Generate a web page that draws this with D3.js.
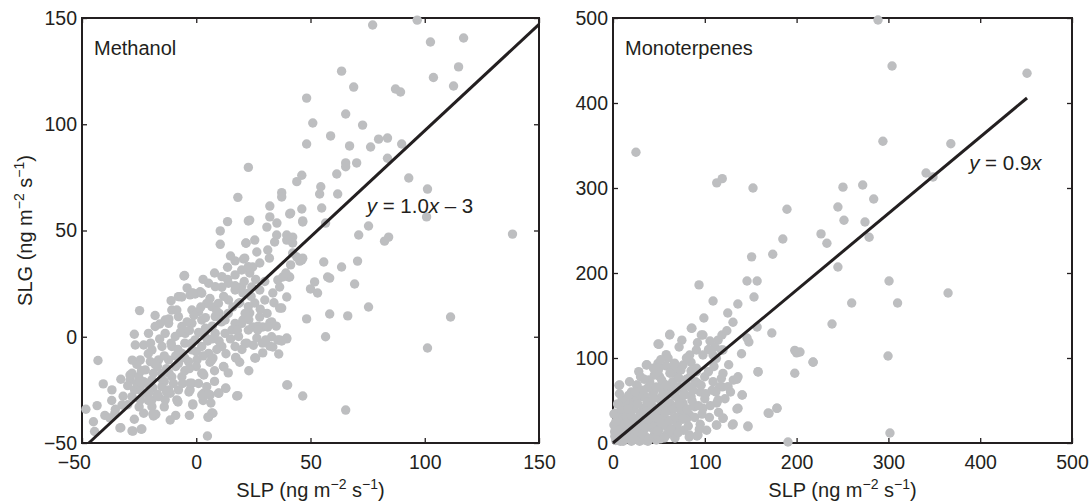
<!DOCTYPE html>
<html>
<head>
<meta charset="utf-8">
<script src="https://cdn.jsdelivr.net/npm/d3@7"></script>
<style>
  body { margin: 0; background: #fff; }
  svg { display: block; font-family: "Liberation Sans", Arial, Helvetica, sans-serif; }
</style>
</head>
<body>
<div id="chart"></div>
<script>
// SLP vs SLG values, [SLP, SLG] in ng m-2 s-1
const methanolPoints = [
  // upper / outlying points
  [96.7, 149], [77.2, 146.7], [102.5, 138.7], [117, 140.6], [114.8, 127], [103.8, 122], [112.6, 118],
  [63.6, 125], [68.9, 117.5], [87.2, 116.6], [89.4, 115.2], [48.3, 112.3], [65.4, 104.8], [51, 100.6],
  [72.8, 99.6], [58.8, 94.5], [48.3, 90.7], [67.1, 89.8], [76.3, 89.3], [79.8, 93], [83.7, 93.5],
  [89.9, 90.7], [83.7, 84], [65.4, 81.8], [65.4, 80], [70.2, 81.8], [61.5, 76.6], [46.2, 76], [44, 73],
  [54.5, 70.6], [37.4, 67.8], [37.4, 65.8], [54, 67.2], [61.9, 67.2], [93, 74.7], [101.2, 69.5],
  [100.8, 56.4], [138.4, 48.3], [75.4, 52.1], [71.1, 47.9], [82.4, 45], [84.2, 46.9], [46.2, 60.1],
  [54.9, 60.6], [32.2, 61.5], [41.3, 58.2], [46.6, 54.5], [56.6, 53.5], [32.2, 56.4], [30.9, 51.6],
  [35.3, 53.5], [40.9, 57.8], [46.6, 54], [23.4, 54.9], [25.6, 45.5], [21.7, 44.1], [35.2, 47.9],
  [39.6, 47.9], [42.2, 46.9], [58.4, 27.6], [22.8, 79.7], [18.2, 65.6], [22.8, 54.5], [13.7, 54.2],
  [10.5, 49.8], [10.5, 43.5], [21.8, 44], [20.7, 36.6], [17, 35.7], [13.7, 32.7], [-5.1, 28.8],
  // band above the line
  [24.7, 32.8], [23.4, 30], [27.8, 34.7], [24.3, 23.4], [20.4, 20.6], [27.8, 22], [30, 17.3],
  [25.6, 15.9], [23.4, 11.2], [27.8, 9.3], [20.4, 7.9], [24.7, 4.6], [29.1, 4.6], [32.2, 6.5],
  [33, 0], [36.5, -1.5], [39.6, -0.6], [26.5, -0.6], [22.1, -3], [33.5, -4.8], [37.4, 13.5],
  [33.5, 20.6], [35.7, 26.7], [36.5, 23.4], [40.9, 28.1], [44, 37.5], [46.2, 36.1], [39.6, 45.5],
  [42.2, 44.1], [34.3, 44.6], [31.3, 40.8], [26.5, 39.9], [21.2, 37],
  [17, 29.1], [13.7, 27], [11.2, 23.3], [-0.5, 20.1], [-2.7, 19.7], [-7.3, 18.9], [-24.8, 12.3],
  [-27.1, 1.2], [22.8, 33], [19.9, 23.6], [22.8, 20.5], [17, 22], [22.8, 14.2], [19.9, 6.3],
  [15.6, 3.2], [11.2, 28.3], [8.3, 23.6], [5.4, 25.2], [2.4, 20.5], [14.1, 25.2], [19.9, 31.4],
  // dense core
  [-7.8, 18.9], [-1.9, 20.5], [1.7, 21.2], [4.6, 15.7], [6.8, 14.2], [9.7, 15.7], [14.1, 17.3],
  [18.5, 15.7], [21.4, 11], [-1.9, 12.6], [-10.7, 12.6], [-13.6, 7.9], [-7.8, 9.5], [1, 11.8],
  [-20.9, 1.6], [-18, 4.8], [-12.1, 6.3], [-6.3, 4.8], [-1.9, 6.3], [2.4, 7.9], [8.3, 9.5],
  [12.6, 7.9], [17, 6.3], [22.8, 3.2], [18.5, 0.1], [12.6, 1.6], [8.3, 1.6], [3.9, 0.1],
  [-0.5, -1.5], [-4.8, 1.6], [-9.2, 0.1], [-13.6, 1.6], [-26.7, -3.9], [-23, -3.9], [-19.4, -6.2],
  [-15, -4.6], [-10.7, -4.6], [-6.3, -7.8], [-1.9, -6.2], [2.4, -4.6], [5.4, -7.8], [11.2, -4.6],
  [17, -4.6], [21.4, -3.1], [-24.5, -10.9], [-20.1, -11.7], [-16.5, -10.9], [-12.1, -10.9],
  [-7.8, -12.5], [-3.4, -11.7], [0.3, -10.9], [-28.1, -17.2], [-25.2, -18.8], [-22.3, -15.6],
  [-18.7, -17.2], [-15, -17.2], [-10.7, -18.8], [-6.3, -18.8], [-1.9, -21.9], [2.4, -17.2],
  [-23, -21.1], [-19.4, -20.3], [-15, -23.5], [-12.1, -25], [-7.8, -25], [-2.7, -25],
  [-28.9, -20.3], [-24.5, -25], [-20.9, -26.6], [-16.5, -28.2], [-11.4, -26.6], [-28.1, -28.2],
  [-24.5, -29.7], [-22.3, -26.6], [-19.4, -29.7], [-13.6, -29.7], [-8.5, -29.7], [-19.4, -32.9],
  [-17, -14], [-13, -15], [-9, -9], [-5, -3], [-3, 3], [4, 4], [7, -1], [10, 11], [-16, -1],
  [-21, -8], [-26, -13], [-30, -23], [-14, -21], [-5, -16], [0, -14], [6, -12], [9, -6],
  [-32, -28], [-30, -32], [-27, -25], [-25, -33], [-22, -22], [-21, -30], [-19, -24], [-18, -13],
  [-17, -27], [-15, -20], [-14, -9], [-13, -26], [-12, -17], [-11, -3], [-10, -22], [-9, -14],
  [-8, -6], [-7, 2], [-6, -22], [-5, -10], [-4, 7], [-3, -15], [-2, -3], [-1, 10], [0, -7],
  [1, 2], [2, 14], [3, -9], [4, 9], [5, -2], [6, 18], [7, 5], [8, -16], [9, 12], [10, -2],
  [11, 7], [12, 19], [13, -8], [14, 11], [15, -1], [16, 14], [17, 24], [18, 3], [19, 16],
  [20, -6], [21, 26], [23, 8], [24, 19], [25, -4], [26, 27], [28, 13], [29, -3], [30, 26],
  [31, 11], [32, 37], [34, 16], [35, 5], [-16, 6], [-20, -3], [-24, -16], [-28, -11], [-26, -22],
  [-23, -36], [-14, -33], [-9, -37], [-3, -37], [1, -22], [3, -30], [8, -21], [14, -17],
  [19, -12], [23, -16], [27, 5], [-11, 17], [-4, 23], [3, 27], [8, 30], [15, 38], [-18, 10],
  [-33, -20], [-37, -30], [-40, -37], [-45, -40],
  // lower side and tails
  [-43, -11.2], [-40.7, -22.2], [-36.9, -25], [-48.3, -34.1], [-43.4, -32.4], [-35.4, -34.1],
  [-32.5, -32.1], [-44.5, -44.6], [-33, -42.8], [-28.1, -44.3], [-24.1, -43.5], [-27.1, -38.8],
  [-18.7, -37.3], [-17.7, -36.5], [-11.4, -39.2], [4.9, -46.7], [5.4, -37.9], [7.3, -36],
  [4.6, -23.5], [6.1, -27.4], [12.9, -24.3], [9.7, -26.6], [18.2, -27.7], [-1.5, -32.1],
  [-8.2, -30.1], [3.2, -26.6], [17.3, -9.7], [11.9, -14], [6.8, -10.9], [2.9, -17.2],
  [-12, 8.4], [-8.5, 12.6], [-5.4, 28.6], [-1.5, 20.6], [-6.3, 18.7], [-29, -18], [-24.6, -21.3],
  [-35.6, -35.9], [-37.8, -38.2], [-33.4, -42.9], [-27.7, -44.4], [-23.8, -43.4], [-19, -36.4],
  [-8, -30.7], [-1.5, -31.6], [6.8, -35.9], [5.1, -37.8], [6.4, -31.2], [2.4, -27.4], [5.1, -26.9],
  [9.9, -26.5], [12.9, -24.1], [17.7, -27.9], [39.6, -22.7], [-3.2, -26], [3.3, -18], [-2.8, -21.8],
  [7.3, -10], [12.1, -14.2], [17.3, -10], [25.6, -10], [29.1, -7.6], [36.1, -8.1], [35.7, -1.5],
  [39.6, -1], [36.5, 13.5], [39.6, 18.7], [40.5, 28.1], [37.8, 28.1],
  [70.6, 35.6], [63.6, 32.8], [55.8, 35.2], [57.5, 28.1], [69.3, 24.8], [51.8, 25.8], [50, 22.5],
  [53.1, 20.6], [75.4, 14], [58.4, 10.7], [66.3, 9.8], [48.3, 8.4], [56.6, 0], [111.3, 9.3],
  [101.2, -5.3], [40, -22.7], [46.6, -27.9], [65.4, -34.5], [37.4, -2], [26, -10], [32.2, -4.4],
  [33, 7], [31.3, 4.6], [26.9, 3.2], [30.4, -1.5], [46.6, 37], [42.2, 39.4], [39.2, 30],
  [41.3, 33.8], [45.3, 35.6]
];

const monoterpenePoints = [
  // outlying points
  [25, 342], [113, 306], [119, 311], [152.5, 300], [189.5, 275], [185, 240], [174, 222], [151, 219],
  [226.6, 246], [288.7, 497.6], [304, 443.5], [451, 435], [294, 355], [368, 352], [341, 317.6],
  [348.6, 313], [250.5, 301], [272, 303.5], [284, 287], [245, 277.6], [251.6, 262], [274.5, 260],
  [279, 242], [233, 235], [245, 207], [300.7, 190.6], [365, 176.5], [260, 164.7], [310, 164.7],
  [238.6, 140], [203.7, 107], [217.9, 95.3], [299.6, 102.4], [301.7, 11.8],
  // middle spread
  [93.7, 186], [146, 190.6], [157, 190.6], [109, 167], [136, 163.5], [125, 153], [130.7, 142],
  [153.6, 171.8], [99, 147], [157, 136.5], [173, 129.4], [86, 135], [62, 128], [49, 116.5],
  [146, 123.5], [148, 118.8], [198, 109], [200, 106], [218, 95], [158, 83.5], [198, 82], [131, 74],
  [135, 75], [140.5, 56.5], [119, 66], [113, 47], [120, 29.4], [131, 22.4], [147, 20], [169, 35.3],
  [178.6, 41], [135, 40], [113, 21], [190.6, 1.2], [83, 7], [91.5, 8.2], [67.5, 5.9], [6.5, 68],
  [1, 34], [26, 68], [37, 92], [98, 127], [105.7, 120], [114.4, 121], [118.7, 127], [111, 113],
  [119.8, 109.4], [75, 121], [72, 113], [85.3, 135], [96.2, 127], [61.7, 127], [50.1, 116.1],
  [90.8, 109.4], [98, 103.5], [83.5, 103.5], [109, 103.5], [118, 109.4], [112.6, 99.6],
  [36.3, 91.8], [49, 93.7], [58.1, 90.6], [67.2, 89.8], [76.3, 91.8],
  // dense cluster
  [90.8, 83.9], [99.9, 78], [109, 72.2], [119.8, 81.9], [116.2, 66.3], [125.3, 66.3], [136.2, 78],
  [140.9, 56.5], [158, 83.9], [170, 34.9], [178.6, 40.8], [136.2, 40.8], [114.4, 50.6],
  [112.6, 21.2], [130, 21.2], [147, 19.2], [119.8, 29], [98, 40.8], [89, 42.7], [83.5, 32.9],
  [76.3, 46.6], [67.2, 42.7], [54.5, 34.9], [43.6, 42.7], [32.7, 40.8], [21.8, 42.7], [14.5, 34.9],
  [7.3, 31], [1, 21.2], [10.9, 17.3], [21.8, 25.1], [34.5, 25.1], [47.2, 23.1], [58.1, 27],
  [69, 19.2], [47.2, 11.4], [58.1, 9.4], [67.2, 7.5], [83.5, 9.4], [92.6, 9.4], [34.5, 3.5],
  [47.2, 3.5], [14.5, 5.5], [21.8, 3.5], [27.2, 7.5], [1.8, 13.3], [5.4, 3.5], [2, 35],
  [7.3, 68.2], [26.1, 68.2], [39.2, 74.1], [50.8, 78], [21.8, 50.6], [32.7, 54.5], [43.6, 58.4],
  [54.5, 60.4], [63.5, 64.3], [72.6, 66.3], [83.5, 66.3], [92.6, 70.2],
  [3, 3], [5, 8], [8, 2], [10, 12], [12, 5], [15, 15], [18, 8], [20, 2], [22, 18], [25, 12],
  [28, 4], [30, 22], [33, 15], [35, 8], [38, 2], [40, 28], [42, 18], [45, 10], [50, 15], [52, 5],
  [55, 30], [58, 20], [60, 12], [62, 38], [65, 28], [70, 22], [72, 50], [75, 35], [78, 58],
  [80, 28], [85, 55], [88, 45], [95, 60], [100, 52], [105, 30], [108, 62], [30, 35], [40, 48],
  [45, 62], [50, 52], [55, 45], [60, 58], [65, 72], [70, 80], [75, 65], [80, 75], [85, 85],
  [90, 72], [35, 55], [25, 50], [18, 45], [12, 28], [8, 22], [15, 32], [20, 60], [30, 78],
  [45, 80], [55, 70], [60, 100], [65, 85], [85, 95], [50, 88], [38, 65], [48, 38], [68, 55],
  [28, 30], [52, 66], [62, 47], [42, 32], [35, 40], [73, 40], [95, 22], [102, 15], [77, 15],
  [2, 8], [4, 18], [6, 26], [8, 12], [9, 40], [11, 2], [12, 22], [13, 48], [14, 9], [16, 25],
  [17, 56], [19, 12], [20, 32], [22, 6], [23, 40], [24, 22], [26, 14], [27, 46], [28, 58], [29, 2],
  [31, 28], [32, 10], [33, 62], [34, 36], [36, 18], [37, 48], [39, 5], [40, 72], [41, 38], [43, 22],
  [44, 52], [46, 30], [47, 66], [48, 14], [49, 84], [51, 42], [52, 24], [53, 74], [54, 56], [56, 6],
  [57, 36], [58, 68], [59, 48], [61, 26], [62, 82], [63, 16], [64, 58], [66, 40], [67, 94], [68, 30],
  [69, 62], [71, 12], [72, 76], [73, 44], [74, 86], [76, 28], [77, 56], [79, 68], [81, 40], [82, 20],
  [84, 78], [86, 50], [87, 62], [89, 30], [91, 88], [93, 44], [94, 16], [96, 68], [97, 34],
  [101, 58], [104, 84], [106, 44], [110, 90], [112, 60], [115, 36], [118, 76], [122, 52], [126, 92],
  [128, 60], [16, 40], [24, 60], [38, 28], [44, 88], [18, 72], [10, 52], [5, 46], [3, 25], [7, 58],
  [28, 84], [58, 104], [80, 100], [104, 110], [92, 118], [124, 132], [140, 105], [34, 75], [52, 98]
];

const methanolTicks = [-50, 0, 50, 100, 150];
const monoterpeneTicks = [0, 100, 200, 300, 400, 500];

// fitted lines: slope, intercept and the x span they are drawn over
const methanolFit = { slope: 1.0, intercept: -3, from: -47, to: 150 };
const monoterpeneFit = { slope: 0.9, intercept: 0, from: 0, to: 451 };

const ink = '#231f20';
const dotColor = '#bdbec0';

const width = 1090;
const height = 501;

const svg = d3.select('#chart').append('svg')
  .attr('width', width)
  .attr('height', height);

const panels = [
  {
    name: 'Methanol', points: methanolPoints, ticks: methanolTicks, fit: methanolFit,
    domain: [-50, 150], left: 82, right: 539, top: 18, bottom: 443,
    equation: ['y', ' = 1.0', 'x', ' \u2013 3'], eqAt: [74.6, 58.2], yTitle: true,
  },
  {
    name: 'Monoterpenes', points: monoterpenePoints, ticks: monoterpeneTicks, fit: monoterpeneFit,
    domain: [0, 500], left: 613, right: 1072, top: 18, bottom: 443,
    equation: ['y', ' = 0.9', 'x'], eqAt: [388, 321], yTitle: false,
  },
];

const fmt = d => (d < 0 ? '\u2212' + Math.abs(d) : String(d));

panels.forEach((p) => {
  const x = d3.scaleLinear().domain(p.domain).range([p.left, p.right]);
  const y = d3.scaleLinear().domain(p.domain).range([p.bottom, p.top]);
  const g = svg.append('g');

  // ticks on all four sides, pointing inwards
  const axes = [
    { axis: d3.axisBottom(x), tf: `translate(0,${p.bottom})`, labels: true },
    { axis: d3.axisTop(x), tf: `translate(0,${p.top})`, labels: false },
    { axis: d3.axisLeft(y), tf: `translate(${p.left},0)`, labels: true },
    { axis: d3.axisRight(y), tf: `translate(${p.right},0)`, labels: false },
  ];
  axes.forEach(({ axis, tf, labels }, i) => {
    axis.tickValues(p.ticks)
      .tickSizeInner(-5)
      .tickSizeOuter(0)
      .tickPadding(i === 0 ? 12 : 5)
      .tickFormat(labels ? fmt : () => '');
    const ag = g.append('g').attr('transform', tf).call(axis);
    ag.select('.domain').remove();
    ag.selectAll('line').attr('stroke', ink).attr('stroke-width', 1.3);
    ag.selectAll('text')
      .attr('fill', ink)
      .attr('font-size', 19.5)
      .attr('font-family', '"Liberation Sans", Arial, sans-serif');
    if (i === 0) ag.selectAll('text').attr('dx', d => (d < 0 ? '-0.42em' : 0));
  });

  // frame
  g.append('rect')
    .attr('x', p.left).attr('y', p.top)
    .attr('width', p.right - p.left).attr('height', p.bottom - p.top)
    .attr('fill', 'none').attr('stroke', ink).attr('stroke-width', 2);

  // points
  g.append('g').selectAll('circle')
    .data(p.points)
    .join('circle')
    .attr('cx', d => x(d[0]))
    .attr('cy', d => y(d[1]))
    .attr('r', 4.7)
    .attr('fill', dotColor);

  // fitted line
  const f = p.fit;
  g.append('line')
    .attr('x1', x(f.from)).attr('y1', y(f.slope * f.from + f.intercept))
    .attr('x2', x(f.to)).attr('y2', y(f.slope * f.to + f.intercept))
    .attr('stroke', ink).attr('stroke-width', 3);

  // panel name
  g.append('text')
    .attr('x', p.left + 12).attr('y', p.top + 37)
    .attr('fill', ink).attr('font-size', 20)
    .text(p.name);

  // equation
  const eq = g.append('text')
    .attr('x', x(p.eqAt[0])).attr('y', y(p.eqAt[1]))
    .attr('fill', ink).attr('font-size', 20.5);
  p.equation.forEach((s, i) => {
    eq.append('tspan')
      .attr('font-style', i % 2 === 0 ? 'italic' : 'normal')
      .text(s);
  });

  // axis titles with superscripts
  const unitParts = (t) => {
    t.append('tspan').text(' (ng m');
    t.append('tspan').attr('font-size', 14).attr('dy', -8).text('\u22122');
    t.append('tspan').attr('dy', 8).text(' s');
    t.append('tspan').attr('font-size', 14).attr('dy', -8).text('\u22121');
    t.append('tspan').attr('dy', 8).text(')');
  };
  const xt = g.append('text')
    .attr('x', (p.left + p.right) / 2).attr('y', 497)
    .attr('text-anchor', 'middle')
    .attr('fill', ink).attr('font-size', 20);
  xt.append('tspan').text('SLP');
  unitParts(xt);

  if (p.yTitle) {
    const yt = g.append('text')
      .attr('transform', `translate(32,${(p.top + p.bottom) / 2}) rotate(-90)`)
      .attr('text-anchor', 'middle')
      .attr('fill', ink).attr('font-size', 20);
    yt.append('tspan').text('SLG');
    unitParts(yt);
  }
});
</script>
</body>
</html>
